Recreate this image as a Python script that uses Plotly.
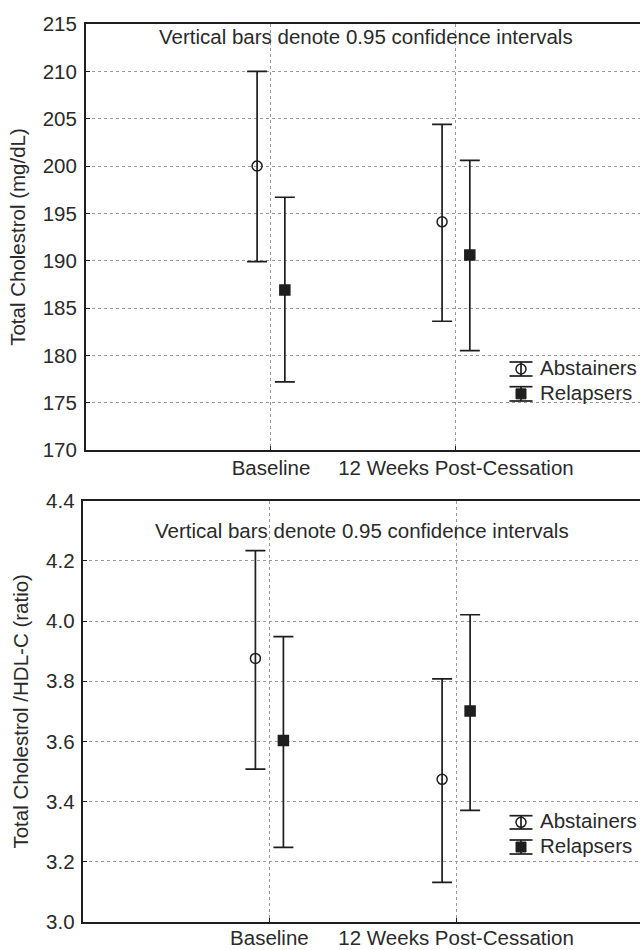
import numpy as np
import plotly.graph_objects as go

# ---------------- data ----------------
categories = ["Baseline", "12 Weeks Post-Cessation"]
series_names = ["Abstainers", "Relapsers"]

tc_abst_mean = [200.0, 194.1]
tc_abst_upper = [210.0, 204.4]
tc_abst_lower = [189.9, 183.6]
tc_rel_mean = [186.9, 190.6]
tc_rel_upper = [196.7, 200.6]
tc_rel_lower = [177.2, 180.5]

ratio_abst_mean = [3.876, 3.474]
ratio_abst_upper = [4.234, 3.808]
ratio_abst_lower = [3.508, 3.132]
ratio_rel_mean = [3.603, 3.701]
ratio_rel_upper = [3.948, 4.021]
ratio_rel_lower = [3.248, 3.371]

top_yticks = [170, 175, 180, 185, 190, 195, 200, 205, 210, 215]
bottom_yticks = [3.0, 3.2, 3.4, 3.6, 3.8, 4.0, 4.2, 4.4]

note_text = "Vertical bars denote 0.95 confidence intervals"
top_ytitle = "Total Cholestrol (mg/dL)"
bottom_ytitle = "Total Cholestrol /HDL-C (ratio)"

# ---------------- layout helpers ----------------
W, H = 640, 950
FONT = "Liberation Sans, Arial, Helvetica, sans-serif"
FS = 20.5
TXT = "#2a2a2a"
INK = "#1e1e1e"
GRID = "#9a9a9a"


def px_x(x):
    return x / W


def px_y(y):
    return 1 - y / H


cat_pos = np.arange(1, len(categories) + 1, dtype=float)
offsets = {"Abstainers": -0.075, "Relapsers": 0.075}

fig = go.Figure()


def add_series(name, mean, upper, lower, xa, ya, symbol):
    mean = np.asarray(mean)
    upper = np.asarray(upper)
    lower = np.asarray(lower)
    fig.add_trace(go.Scatter(
        x=cat_pos + offsets[name], y=mean, mode="markers", name=name,
        xaxis=xa, yaxis=ya, showlegend=False,
        marker=dict(symbol=symbol, size=10, color=INK,
                    line=dict(width=1.5, color=INK)),
        error_y=dict(type="data", symmetric=False,
                     array=upper - mean, arrayminus=mean - lower,
                     color=INK, thickness=1.7, width=10),
    ))


add_series("Abstainers", tc_abst_mean, tc_abst_upper, tc_abst_lower, "x", "y", "circle-open")
add_series("Relapsers", tc_rel_mean, tc_rel_upper, tc_rel_lower, "x", "y", "square")
add_series("Abstainers", ratio_abst_mean, ratio_abst_upper, ratio_abst_lower, "x2", "y2", "circle-open")
add_series("Relapsers", ratio_rel_mean, ratio_rel_upper, ratio_rel_lower, "x2", "y2", "square")

axis_common = dict(
    showline=True, linecolor=INK, linewidth=2, automargin=False,
    showgrid=True, gridcolor=GRID, gridwidth=1, griddash="dot",
    zeroline=False, ticks="inside", ticklen=4, tickcolor=INK,
    tickfont=dict(family=FONT, size=FS, color=TXT),
)

fig.update_layout(
    width=W, height=H,
    margin=dict(l=0, r=0, t=0, b=0),
    paper_bgcolor="white", plot_bgcolor="white",
    font=dict(family=FONT, color=TXT),
    xaxis=dict(domain=[px_x(86), 1], range=[0, 2.995], anchor="y",
               tickvals=cat_pos, ticktext=categories, mirror=True,
               ticklabelstandoff=-2, **axis_common),
    yaxis=dict(domain=[px_y(450), px_y(24)], range=[170, 215], anchor="x",
               tickvals=top_yticks, mirror=False, ticklabelstandoff=3,
               title=dict(text=top_ytitle, font=dict(family=FONT, size=FS, color=TXT), standoff=12),
               **axis_common),
    xaxis2=dict(domain=[px_x(82.7), 1], range=[0, 2.985], anchor="y2",
                tickvals=cat_pos, ticktext=categories, mirror=True,
                ticklabelstandoff=-4, **axis_common),
    yaxis2=dict(domain=[px_y(922), px_y(500.7)], range=[3.0, 4.4], anchor="x2",
                tickvals=bottom_yticks, tickformat=".1f", mirror=False, ticklabelstandoff=2,
                title=dict(text=bottom_ytitle, font=dict(family=FONT, size=FS, color=TXT), standoff=12),
                **axis_common),
)

annotations = [
    dict(text=note_text, xref="paper", yref="paper", x=px_x(365.5), y=px_y(37),
         showarrow=False, xanchor="center", yanchor="middle",
         font=dict(family=FONT, size=FS, color=TXT)),
    dict(text=note_text, xref="paper", yref="paper", x=px_x(361.5), y=px_y(530),
         showarrow=False, xanchor="center", yanchor="middle",
         font=dict(family=FONT, size=FS, color=TXT)),
]
shapes = []


def legend_entry(name, cx, top, bottom, text_y, kind):
    half = 11.5
    for yy in (top, bottom):
        shapes.append(dict(type="line", xref="paper", yref="paper",
                           x0=px_x(cx - half), x1=px_x(cx + half),
                           y0=px_y(yy), y1=px_y(yy),
                           line=dict(color=INK, width=1.7)))
    shapes.append(dict(type="line", xref="paper", yref="paper",
                       x0=px_x(cx), x1=px_x(cx), y0=px_y(top), y1=px_y(bottom),
                       line=dict(color=INK, width=1.7)))
    cy = (top + bottom) / 2
    r = 5
    if kind == "circle":
        shapes.append(dict(type="circle", xref="paper", yref="paper",
                           x0=px_x(cx - r), x1=px_x(cx + r),
                           y0=px_y(cy + r), y1=px_y(cy - r),
                           line=dict(color=INK, width=1.5), fillcolor="rgba(0,0,0,0)"))
    else:
        shapes.append(dict(type="rect", xref="paper", yref="paper",
                           x0=px_x(cx - r), x1=px_x(cx + r),
                           y0=px_y(cy + r), y1=px_y(cy - r),
                           line=dict(color=INK, width=1), fillcolor=INK))
    annotations.append(dict(text=name, xref="paper", yref="paper",
                            x=px_x(538), y=px_y(text_y), showarrow=False,
                            xanchor="left", yanchor="middle",
                            font=dict(family=FONT, size=FS, color=TXT)))


legend_entry(series_names[0], 521, 362, 376, 367.7, "circle")
legend_entry(series_names[1], 521, 386.7, 401, 392.7, "square")
legend_entry(series_names[0], 521, 815.7, 829, 820, "circle")
legend_entry(series_names[1], 521, 840, 854, 845, "square")

fig.update_layout(annotations=annotations, shapes=shapes)

fig.write_html("out.html")
